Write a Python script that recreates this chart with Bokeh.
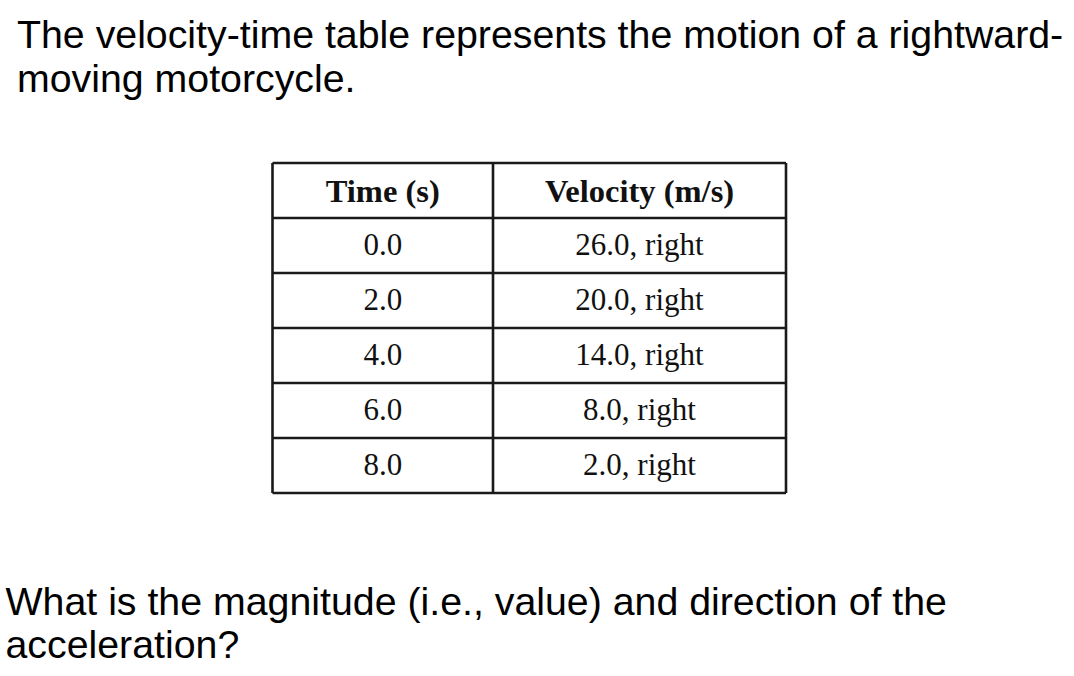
from bokeh.plotting import figure
from bokeh.models import Range1d
from bokeh.core.properties import value
from bokeh.embed import file_html
from bokeh.resources import INLINE

# ---- data ----
title_lines = ["The velocity-time table represents the motion of a rightward-",
               "moving motorcycle."]
question_lines = ["What is the magnitude (i.e., value) and direction of the",
                  "acceleration?"]
headers = ["Time (s)", "Velocity (m/s)"]
times = ["0.0", "2.0", "4.0", "6.0", "8.0"]
velocities = ["26.0, right", "20.0, right", "14.0, right", "8.0, right", "2.0, right"]

# ---- layout (screen-pixel coordinates) ----
W, H = 1074, 676
p = figure(width=W, height=H, x_range=Range1d(0, W), y_range=Range1d(H, 0),
           output_backend="svg", toolbar_location=None, min_border=0)
p.xaxis.visible = False
p.yaxis.visible = False
p.xgrid.visible = False
p.ygrid.visible = False
p.outline_line_color = None
p.background_fill_color = "white"
p.border_fill_color = "white"

sans = value("Liberation Sans")
serif = value("Liberation Serif")
shift = -12.5  # renderer places alphabetic baseline lower than requested

# title text
title_x, title_y0, line_gap = 16.5, 45.5 + shift, 44.5
p.text(x=[title_x] * len(title_lines),
       y=[title_y0 + i * line_gap for i in range(len(title_lines))],
       text=title_lines, text_font=sans, text_font_size="39.3px",
       text_color="black", text_baseline="alphabetic", text_align="left")

# question text
q_x, q_y0 = 5, 612.5 + shift
p.text(x=[q_x] * len(question_lines),
       y=[q_y0 + i * 43.5 for i in range(len(question_lines))],
       text=question_lines, text_font=sans, text_font_size="39.3px",
       text_color="black", text_baseline="alphabetic", text_align="left")

# table geometry
col_edges = [272, 492.5, 785.5]
top, row_h = 162.5, 55.0
n_rows = len(times) + 1
row_edges = [top + i * row_h for i in range(n_rows + 1)]

# grid lines
hx0 = [col_edges[0]] * len(row_edges)
hx1 = [col_edges[-1]] * len(row_edges)
p.segment(x0=hx0, y0=row_edges, x1=hx1, y1=row_edges,
          line_color="#1a1a1a", line_width=2.6)
p.segment(x0=col_edges, y0=[row_edges[0]] * 3, x1=col_edges, y1=[row_edges[-1]] * 3,
          line_color="#1a1a1a", line_width=2.6)

col_centers = [(col_edges[i] + col_edges[i + 1]) / 2 for i in range(2)]
base_off_header = 40.5 + shift
base_off = 39.0 + shift

# header
p.text(x=col_centers, y=[row_edges[0] + base_off_header] * 2, text=headers,
       text_font=serif, text_font_style="bold", text_font_size="32.5px",
       text_color="#111111", text_align="center", text_baseline="alphabetic")

# body
body_y = [row_edges[i + 1] + base_off for i in range(len(times))]
p.text(x=[col_centers[0]] * len(times), y=body_y, text=times,
       text_font=serif, text_font_size="31px", text_color="#111111",
       text_align="center", text_baseline="alphabetic")
p.text(x=[col_centers[1]] * len(velocities), y=body_y, text=velocities,
       text_font=serif, text_font_size="31px", text_color="#111111",
       text_align="center", text_baseline="alphabetic")

open("out.html", "w").write(file_html(p, INLINE))
